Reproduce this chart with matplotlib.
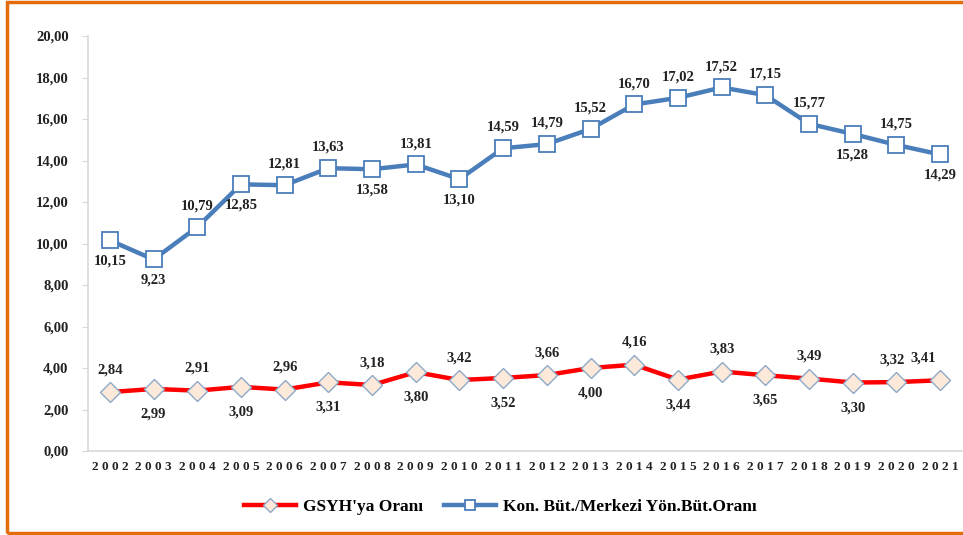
import matplotlib
matplotlib.use("Agg")
import matplotlib.pyplot as plt
from matplotlib.patches import Rectangle

# data
years = [str(y) for y in range(2002, 2022)]
butce_orani = [10.15, 9.23, 10.79, 12.85, 12.81, 13.63, 13.58, 13.81, 13.10, 14.59,
               14.79, 15.52, 16.70, 17.02, 17.52, 17.15, 15.77, 15.28, 14.75, 14.29]
gsyh_orani = [2.84, 2.99, 2.91, 3.09, 2.96, 3.31, 3.18, 3.80, 3.42, 3.52,
              3.66, 4.00, 4.16, 3.44, 3.83, 3.65, 3.49, 3.30, 3.32, 3.41]
yticks = [0, 2, 4, 6, 8, 10, 12, 14, 16, 18, 20]

# label placement: 1 = above, -1 = below
blue_pos = [-1, -1, 1, -1, 1, 1, -1, 1, -1, 1, 1, 1, 1, 1, 1, 1, 1, -1, 1, -1]
red_pos = [1, -1, 1, -1, 1, -1, 1, -1, 1, -1, 1, -1, 1, -1, 1, -1, 1, -1, 1, 1]

plt.rcParams['font.family'] = ['Liberation Serif', 'DejaVu Serif']
plt.rcParams['font.weight'] = 'bold'

fig = plt.figure(figsize=(9.63, 5.35), dpi=100)
ax = fig.add_axes([88/963, 1 - 451/535, 874/963, 415/535])

x = list(range(len(years)))
red_line, = ax.plot(x, gsyh_orani, color='#ff0000', lw=3.2, marker='D', ms=10,
                    mfc='#fde9d9', mec='#8ea9c8', mew=1.0, zorder=3,
                    label="GSYH'ya Oranı")
blue_line, = ax.plot(x, butce_orani, color='#4a7ebb', lw=3.2, marker='s', ms=11,
                     mfc='white', mec='#4a7ebb', mew=1.3, zorder=3,
                     label="Kon. Büt./Merkezi Yön.Büt.Oranı")

def fmt(v):
    return ("%.2f" % v).replace('.', ',')

for i, v in enumerate(butce_orani):
    ax.annotate(fmt(v), (i, v), xytext=(0, 15 * blue_pos[i]), textcoords='offset points',
                ha='center', va='center', fontsize=10.5, fontweight='bold', color='#222222')

for i, v in enumerate(gsyh_orani):
    dx = 0
    if i == 19:
        dx = -12
    elif i == 18:
        dx = -3
    dy = 16 if red_pos[i] > 0 else -18
    ax.annotate(fmt(v), (i, v), xytext=(dx, dy), textcoords='offset points',
                ha='center', va='center', fontsize=10.5, fontweight='bold', color='#222222')

ax.set_xlim(-0.5, len(years) - 0.5)
ax.set_ylim(0, 20)
ax.set_yticks(yticks)
ax.set_yticklabels([fmt(t) for t in yticks], fontsize=10.5, fontweight='bold', color='#222222')
ax.set_xticks(x)
ax.set_xticklabels([' '.join(y) for y in years], fontsize=9.5, fontweight='bold', color='#222222')
ax.tick_params(axis='x', length=0, pad=7)
ax.tick_params(axis='y', length=4, color='#d9d9d9', pad=10)

for s in ['top', 'right']:
    ax.spines[s].set_visible(False)
for s in ['left', 'bottom']:
    ax.spines[s].set_color('#d9d9d9')
    ax.spines[s].set_linewidth(1.2)

fig.legend(handles=[red_line, blue_line], loc='center', bbox_to_anchor=(0.52, 1 - 507/535),
           ncol=2, frameon=False, handlelength=3.0, columnspacing=1.2, handletextpad=0.4,
           markerscale=0.7, prop={'weight': 'bold', 'size': 12.5})

# orange frame around the chart
fig.patches.append(Rectangle((7/963, 2/535), 1.0, 531/535, transform=fig.transFigure,
                             fill=False, edgecolor='#e46c0a', lw=2.5))

fig.savefig('out.png', dpi=100)
